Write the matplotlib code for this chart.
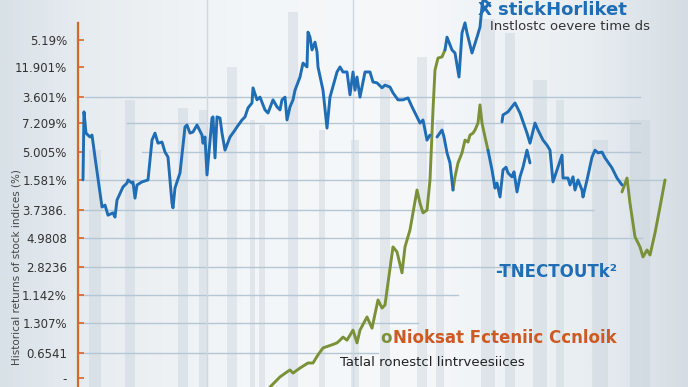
import numpy as np
import matplotlib
matplotlib.use("Agg")
import matplotlib.pyplot as plt
from matplotlib.colors import LinearSegmentedColormap

# ---------------- data ----------------
tick_vals = [89.7, 82.7, 74.9, 68.2, 60.7, 53.5, 45.7, 38.5, 31.0, 23.8, 16.5, 8.8, 2.3]
tick_labels = ["5.19%", "11.901%", "3.601%", "7.209%", "5.005%", "1.581%", "3.7386.",
               "4.9808", "2.8236", "1.142%", "1.307%", "0.6541", "-"]

# blue series, main segment
blue_a_x = [5, 6, 8, 12, 14, 17, 24, 27, 30, 35, 37, 39, 45, 49, 50, 54, 55, 57, 59, 64, 70,
            74, 77, 80, 84, 87, 90, 94, 95, 97, 99, 102, 107, 109, 112, 115, 119, 124, 125, 127,
            129, 134, 135, 137, 139, 142, 144, 147, 152, 157, 159, 164, 167, 170, 174, 175, 179,
            182, 187, 190, 195, 199, 202, 204, 207, 209, 212, 215, 217, 222, 225, 229, 230, 232,
            234, 237, 239, 240, 245, 249, 252, 259, 262, 265, 269, 272, 275, 277, 279, 282, 287,
            292, 295, 299, 304, 307, 312, 315, 320, 325, 330, 334, 339, 342, 345, 349, 352]
blue_a_y = [53.5, 71.1, 65.6, 64.6, 65.1, 59.4, 46.5, 47.0, 44.4, 45.0, 43.9, 48.3, 51.7, 52.7,
            53.5, 52.7, 53.0, 48.8, 52.2, 53.0, 53.5, 63.8, 65.6, 63.0, 63.3, 60.7, 59.4, 47.5,
            46.3, 51.4, 53.0, 55.3, 67.2, 67.7, 65.6, 65.9, 67.7, 65.1, 63.0, 64.6, 54.8, 69.5,
            69.8, 59.2, 69.8, 69.5, 65.6, 61.2, 64.6, 66.4, 67.2, 69.0, 69.8, 72.1, 73.4, 77.3,
            74.2, 74.9, 71.6, 70.8, 74.2, 72.4, 71.6, 74.2, 74.9, 69.0, 72.4, 74.2, 76.7, 80.1,
            83.7, 82.7, 91.7, 90.4, 87.1, 89.1, 86.6, 82.7, 76.7, 66.9, 74.9, 81.4, 82.7, 81.4,
            81.4, 75.5, 81.4, 76.7, 80.1, 74.9, 81.4, 81.4, 78.8, 78.6, 77.3, 78.0, 77.5, 76.0,
            74.2, 74.2, 74.7, 72.4, 69.8, 68.2, 69.0, 63.8, 65.1]

# blue series, lower branch
blue_b_x = [359, 364, 366, 369, 372, 375]
blue_b_y = [64.6, 66.4, 64.6, 60.5, 57.9, 50.9]

# blue series, lower right branch
blue_c_x = [410, 414, 417, 419, 422, 425, 428, 430, 434, 436, 439, 442, 445, 449, 452]
blue_c_y = [61.2, 56.1, 51.4, 52.7, 49.1, 56.1, 56.8, 55.3, 54.3, 55.6, 50.4, 54.3, 56.8, 61.2, 57.9]

# blue series, upper right branch
blue_d_x = [424, 425, 430, 437, 442, 449, 452, 457, 460, 465, 469, 472, 475, 484, 485, 490,
            492, 495, 497, 500, 504, 505, 509, 514, 517, 520, 524, 527, 530, 534, 539, 544]
blue_d_y = [68.5, 70.3, 71.1, 73.4, 70.8, 65.6, 63.0, 68.2, 66.4, 63.8, 62.5, 61.2, 53.0,
            59.9, 54.0, 54.0, 52.2, 54.3, 50.9, 53.5, 50.9, 49.1, 53.5, 59.4, 61.2, 60.5, 60.7,
            59.2, 58.1, 56.6, 54.0, 52.2]

# blue series, top branch
blue_e_x = [367, 369, 374, 377, 381, 384, 387, 389, 394, 399, 402, 404, 405, 409, 412]
blue_e_y = [87.1, 90.4, 87.1, 86.3, 80.1, 91.5, 94.1, 91.5, 86.3, 90.4, 93.0, 98.2, 100.0, 99.5, 98.5]

# green series
green_a_x = [192, 202, 209, 212, 215, 222, 230, 235, 240, 245, 254, 259, 262, 265, 269, 275,
             279, 282, 289, 294, 300, 304, 307, 310, 315, 319, 324, 327, 332, 339, 342, 345,
             349, 352, 355, 357, 360, 364, 367]
green_a_y = [0.0, 2.6, 3.9, 4.4, 3.6, 4.9, 6.2, 6.2, 8.3, 10.1, 10.9, 11.4, 12.1, 12.9, 12.1,
             14.7, 11.4, 14.7, 18.1, 15.2, 22.5, 20.4, 21.2, 26.9, 36.2, 34.9, 29.5, 36.2, 40.6,
             50.9, 47.5, 45.0, 45.7, 53.5, 71.6, 81.9, 85.0, 85.3, 87.1]
green_b_x = [375, 377, 380, 384, 387, 390, 392, 395, 397, 400, 402, 404, 407, 410]
green_b_y = [50.9, 54.3, 57.9, 60.5, 63.8, 63.3, 65.1, 65.6, 66.4, 68.2, 72.9, 68.2, 64.6, 61.2]
green_c_x = [544, 549, 552, 557, 562, 565, 569, 572, 577, 582, 587]
green_c_y = [50.4, 54.0, 47.5, 38.8, 36.2, 33.6, 35.4, 34.1, 39.8, 46.5, 53.5]

# background skyline bars
bar_x = [17, 52, 105, 125, 154, 174, 184, 215, 244, 277, 307, 344, 362, 410, 432, 462, 482, 522, 562]
bar_w = [12, 10, 10, 8, 10, 5, 6, 10, 6, 8, 10, 10, 8, 14, 10, 14, 8, 16, 20]
bar_h = [61.2, 74.2, 72.1, 71.6, 82.7, 69.0, 67.7, 96.9, 66.4, 63.8, 79.3, 85.3, 69.0, 95.0,
         91.5, 79.3, 74.2, 63.8, 69.0]

# horizontal reference lines: level, start, end
grid_lvl = [74.9, 68.2, 60.7, 53.5, 45.7, 38.5, 31.0, 23.8, 16.5, 8.8]
grid_x0 = [7, 49, 64, 7, 0, 0, 0, 0, 0, 0]
grid_x1 = [562, 562, 562, 588, 515, 564, 445, 380, 340, 300]
vgrid_x = [129, 275]

# ---------------- colours ----------------
BLUE = "#1f6db5"
GREEN = "#7b9137"
ORANGE = "#d9662e"

W, H = 688, 387
fig = plt.figure(figsize=(W / 100, H / 100), dpi=100)

# background gradient
bg = fig.add_axes([0, 0, 1, 1], zorder=-5)
cmap = LinearSegmentedColormap.from_list(
    "bg", [(0, "#d9e1e8"), (0.12, "#e7ecf0"), (0.35, "#f3f6f8"), (0.6, "#f6f8fa"),
           (0.85, "#e9eef2"), (1, "#d5dde4")])
grad = np.linspace(0, 1, 512).reshape(1, -1)
bg.imshow(grad, aspect="auto", cmap=cmap, extent=[0, 1, 0, 1])
bg.set_axis_off()

ax = fig.add_axes([78 / W, 0, (W - 78) / W, 1])
ax.patch.set_alpha(0)
ax.set_xlim(0, 610)
ax.set_ylim(0, 100)

ax.bar(bar_x, bar_h, width=bar_w, color="#c3ced8", alpha=0.38, zorder=0, linewidth=0)

for lvl, x0, x1 in zip(grid_lvl, grid_x0, grid_x1):
    ax.plot([x0, x1], [lvl, lvl], color="#b5c6d4", lw=1.0, zorder=1)
for vx in vgrid_x:
    ax.axvline(vx, color="#cdd8e2", lw=1.0, zorder=1)

kw = dict(lw=2.1, solid_joinstyle="round", solid_capstyle="round", zorder=3, clip_on=False)
ax.plot(green_a_x, green_a_y, color=GREEN, **kw)
ax.plot(green_b_x, green_b_y, color=GREEN, **kw)
ax.plot(green_c_x, green_c_y, color=GREEN, **kw)
ax.plot(blue_a_x, blue_a_y, color=BLUE, **kw)
ax.plot(blue_b_x, blue_b_y, color=BLUE, **kw)
ax.plot(blue_c_x, blue_c_y, color=BLUE, **kw)
ax.plot(blue_d_x, blue_d_y, color=BLUE, **kw)
ax.plot(blue_e_x, blue_e_y, color=BLUE, **kw)

for s in ["top", "right", "bottom"]:
    ax.spines[s].set_visible(False)
ax.spines["left"].set_color(ORANGE)
ax.spines["left"].set_linewidth(1.6)
ax.spines["left"].set_bounds(0, 94)
ax.set_xticks([])
ax.set_yticks(tick_vals)
ax.set_yticklabels(tick_labels)
ax.tick_params(axis="y", direction="in", length=4, width=1.2, color=ORANGE,
               pad=8, labelsize=8.5, labelcolor="#333333")

def ftext(px, py, s, **k):
    fig.text(px / W, 1 - py / H, s, **k)

ftext(17, 267, "Historical returns of stock indices (%)", rotation=90,
      ha="center", va="center", fontsize=7.5, color="#444444")
ftext(478, 1, "X stickHorliket", ha="left", va="top", fontsize=13,
      fontweight="bold", color=BLUE)
ftext(490, 26, "Instlostc oevere time ds", ha="left", va="center", fontsize=9.5,
      color="#333333")
ftext(495, 272, "-TNECTOUTk\u00b2", ha="left", va="center", fontsize=12,
      fontweight="bold", color=BLUE)
ftext(380, 338, "o", ha="left", va="center", fontsize=12, fontweight="bold", color=GREEN)
ftext(393, 338, "Nioksat Fcteniic Ccnloik", ha="left", va="center", fontsize=12,
      fontweight="bold", color="#cc5a22")
ftext(340, 362, "Tatlal ronestcl lintrveesiices", ha="left", va="center", fontsize=9.5,
      color="#222222")

fig.savefig("out.png", dpi=100)
